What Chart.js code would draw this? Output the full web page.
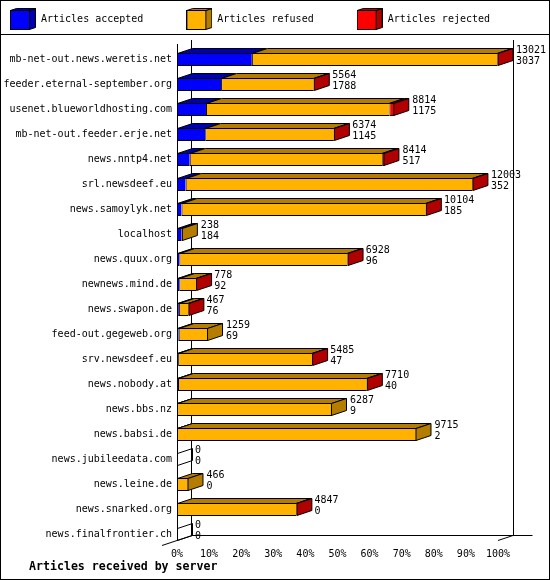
<!DOCTYPE html>
<html><head><meta charset="utf-8">
<script src="https://cdn.jsdelivr.net/npm/chart.js@4.4.1/dist/chart.umd.min.js"></script>
<style>html,body{margin:0;padding:0;background:#fff;}canvas{display:block;}</style>
</head><body>
<canvas id="c" width="550" height="580"></canvas>
<script>
const servers = [
  'mb-net-out.news.weretis.net','feeder.eternal-september.org','usenet.blueworldhosting.com',
  'mb-net-out.feeder.erje.net','news.nntp4.net','srl.newsdeef.eu','news.samoylyk.net','localhost',
  'news.quux.org','newnews.mind.de','news.swapon.de','feed-out.gegeweb.org','srv.newsdeef.eu',
  'news.nobody.at','news.bbs.nz','news.babsi.de','news.jubileedata.com','news.leine.de',
  'news.snarked.org','news.finalfrontier.ch'
];
const accepted = [3037,1788,1175,1145,517,352,185,184,96,92,76,69,47,40,9,2,0,0,0,0];
const refused  = [9964,3761,7439,5219,7807,11631,9909,54,6822,681,386,1190,5433,7660,6278,9713,0,466,4842,0];
const rejected = [20,15,200,10,90,20,10,0,10,5,5,0,5,10,0,0,0,0,5,0];
const seriesNames = ['Articles accepted','Articles refused','Articles rejected'];
const xTickLabels = ['0%','10%','20%','30%','40%','50%','60%','70%','80%','90%','100%'];
const axisTitle = 'Articles received by server';

const FONT = "'DejaVu Sans Mono','Liberation Mono',monospace";
const frontColors = ['#0000FF','#FFB300','#FF0000'];
const sideColors = ['#0000B0','#B47D00','#B00000'];
const DX = 15, DY = 5;
const series = [accepted, refused, rejected];
const totals = servers.map((_, i) => accepted[i] + refused[i] + rejected[i]);
const maxTotal = Math.max(...totals);
const toPct = arr => arr.map(v => v / maxTotal * 100);

function makeIcon(front, side) {
  const c = document.createElement('canvas');
  c.width = 26; c.height = 23;
  const g = c.getContext('2d');
  g.lineWidth = 1; g.strokeStyle = '#000'; g.fillStyle = side;
  g.beginPath(); g.moveTo(19.5,2.5); g.lineTo(25.5,0.5); g.lineTo(25.5,19.5); g.lineTo(19.5,21.5); g.closePath(); g.fill(); g.stroke();
  g.beginPath(); g.moveTo(0.5,2.5); g.lineTo(6.5,0.5); g.lineTo(25.5,0.5); g.lineTo(19.5,2.5); g.closePath(); g.fill(); g.stroke();
  g.fillStyle = front; g.fillRect(0.5,2.5,19,19); g.strokeRect(0.5,2.5,19,19);
  return c;
}
const icons = frontColors.map((f, k) => makeIcon(f, sideColors[k]));

function poly(ctx, pts, fill) {
  ctx.beginPath();
  ctx.moveTo(pts[0][0], pts[0][1]);
  for (let i = 1; i < pts.length; i++) ctx.lineTo(pts[i][0], pts[i][1]);
  ctx.closePath();
  if (fill) { ctx.fillStyle = fill; ctx.fill(); }
  ctx.stroke();
}
function line(ctx, x1, y1, x2, y2) {
  ctx.beginPath(); ctx.moveTo(x1, y1); ctx.lineTo(x2, y2); ctx.stroke();
}

const LEG_PAD = 43;
const frame3d = {
  id: 'frame3d',
  beforeLayout(chart) {
    const lg = chart.legend;
    if (lg && !lg._patched) {
      const f = lg.fit;
      lg.fit = function () { f.call(this); this.height = 35; };
      lg._patched = true;
    }
  },
  afterLayout(chart) {
    const lg = chart.legend;
    if (lg) { lg.left = 10 - LEG_PAD; lg.top = 19.5 - 5 - LEG_PAD; lg.right = 900; }
    const tb = chart.titleBlock;
    if (tb) { tb.left = 29; tb.top = 560; }
  },
  beforeDraw(chart) {
    const ctx = chart.ctx;
    ctx.save();
    ctx.fillStyle = '#fff'; ctx.fillRect(0, 0, chart.width, chart.height);
    ctx.strokeStyle = '#000'; ctx.lineWidth = 1;
    ctx.strokeRect(0.5, 0.5, chart.width - 1, chart.height - 1);
    line(ctx, 0, 34.5, chart.width, 34.5);
    ctx.restore();
  },
  beforeDatasetsDraw(chart) {
    const ctx = chart.ctx, a = chart.chartArea;
    ctx.save();
    ctx.strokeStyle = '#000'; ctx.lineWidth = 1;
    line(ctx, a.left + 0.5, a.top - 3, a.left + 0.5, a.bottom - 7);
    line(ctx, a.left + 14.5, a.top - 7, a.left + 14.5, a.bottom - 11.5);
    line(ctx, a.right + 15.5, a.top - 7, a.right + 15.5, a.bottom - 11.5);
    line(ctx, a.left + 14.5, a.bottom - 11.5, a.right + 34.5, a.bottom - 11.5);
    line(ctx, a.left - 15, a.bottom - 1.5, a.left + 15, a.bottom - 11.5);
    line(ctx, a.right, a.bottom - 6.5, a.right + 15, a.bottom - 11.5);
    ctx.restore();
  },
  afterDatasetsDraw(chart) {
    const ctx = chart.ctx;
    const metas = [0, 1, 2].map(k => chart.getDatasetMeta(k));
    ctx.save();
    ctx.strokeStyle = '#000'; ctx.lineWidth = 1;
    for (let i = 0; i < servers.length; i++) {
      const ref = metas[0].data[i];
      const h = ref.height;
      const yT = ref.y - h / 2 + 0.5, yB = ref.y + h / 2 - 0.5;
      let last = -1;
      for (let k = 0; k < 3; k++) {
        if (series[k][i] > 0) {
          const el = metas[k].data[i];
          const x0 = el.base + 0.5;
          const x1 = Math.max(x0, el.x - 0.5);
          poly(ctx, [[x0, yT], [x1, yT], [x1 + DX, yT - DY], [x0 + DX, yT - DY]], sideColors[k]);
          last = k;
        }
      }
      const xe = last >= 0 ? Math.max(metas[last].data[i].base + 0.5, metas[last].data[i].x - 0.5) : ref.base + 0.5;
      poly(ctx, [[xe, yT], [xe + DX, yT - DY], [xe + DX, yB - DY], [xe, yB]], last >= 0 ? sideColors[last] : null);
      const endX = metas[2].data[i].x;
      ctx.fillStyle = '#000';
      ctx.font = '10px ' + FONT;
      ctx.textAlign = 'left';
      ctx.textBaseline = 'middle';
      ctx.fillText(String(totals[i]), endX + DX + 3, ref.y - 9);
      ctx.fillText(String(accepted[i]), endX + DX + 3, ref.y + 2);
    }
    ctx.restore();
  }
};

new Chart(document.getElementById('c'), {
  type: 'bar',
  data: {
    labels: servers,
    datasets: seriesNames.map((name, k) => ({
      label: name,
      data: toPct(series[k]),
      backgroundColor: frontColors[k],
      borderColor: '#000',
      borderWidth: 1,
      borderSkipped: 'end',
      barThickness: 13,
      inflateAmount: 0,
      stack: 's'
    }))
  },
  options: {
    indexAxis: 'y',
    responsive: false,
    maintainAspectRatio: false,
    devicePixelRatio: 1,
    animation: false,
    events: [],
    layout: { padding: { left: 0, right: 52, top: 12, bottom: 0 } },
    scales: {
      x: {
        stacked: true, min: 0, max: 100,
        grid: { display: false, drawTicks: false },
        border: { display: false },
        ticks: {
          stepSize: 10, autoSkip: false, maxRotation: 0, padding: 1,
          color: '#000', font: { family: FONT, size: 10 },
          callback: (v, idx) => xTickLabels[idx]
        },
        afterFit: s => { s.height = 580 - 547 - 13.92; }
      },
      y: {
        stacked: true,
        grid: { display: false, drawTicks: false },
        border: { display: false },
        ticks: { autoSkip: false, padding: 5, color: '#000', font: { family: FONT, size: 10 } },
        afterFit: s => { s.width = 177; }
      }
    },
    plugins: {
      tooltip: { enabled: false },
      legend: {
        display: true, position: 'top', align: 'start', maxHeight: 35,
        labels: {
          usePointStyle: true, pointStyleWidth: 26, padding: LEG_PAD,
          color: '#000', font: { family: FONT, size: 10 },
          generateLabels: chart => Chart.defaults.plugins.legend.labels.generateLabels(chart)
            .map((it, k) => Object.assign(it, { pointStyle: icons[k], lineWidth: 0 }))
        }
      },
      title: {
        display: true, text: axisTitle, position: 'bottom', align: 'start',
        color: '#000', padding: 0,
        font: { family: FONT, size: 11.6, weight: 'bold', lineHeight: 1.2 }
      }
    }
  },
  plugins: [frame3d]
});
</script>
</body></html>
